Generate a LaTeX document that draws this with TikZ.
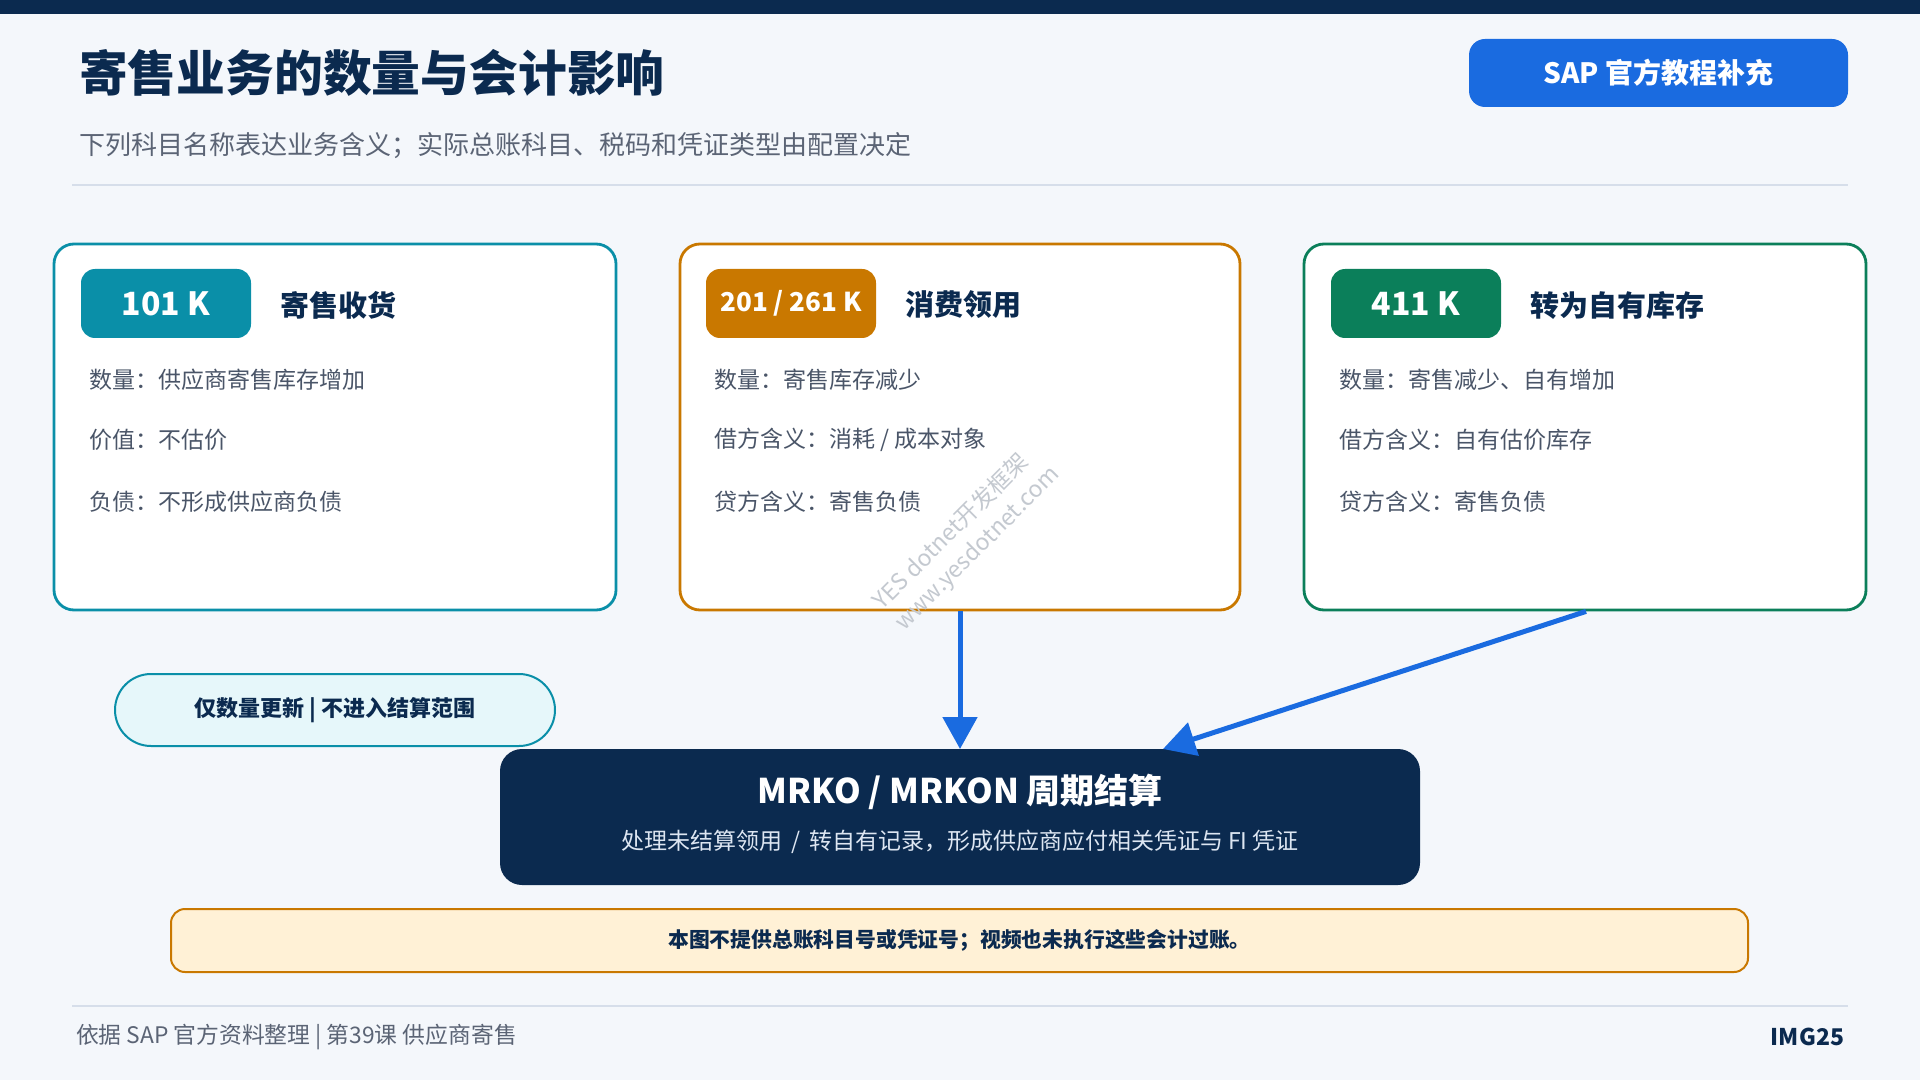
\documentclass[tikz,border=0pt]{standalone}
\usepackage{fontspec}
\setmainfont{Noto Sans CJK SC}
\usetikzlibrary{arrows.meta}
\definecolor{navy}{HTML}{0B2A4F}
\definecolor{flowblue}{HTML}{1A6BE0}
\definecolor{tealc}{HTML}{0A8FA8}
\definecolor{orangec}{HTML}{C97800}
\definecolor{greenc}{HTML}{0B7F5A}
\definecolor{bodygray}{HTML}{4A5568}
\definecolor{subgray}{HTML}{5B6475}
\definecolor{bgc}{HTML}{F4F7FB}
\definecolor{sepc}{HTML}{D6DEEA}
\definecolor{pillfill}{HTML}{E6F7FA}
\definecolor{notefill}{HTML}{FFF1D6}
\definecolor{subwhite}{HTML}{DDE6F2}
\definecolor{wmgray}{HTML}{C4C9D0}
\newcommand{\fsz}[1]{\fontsize{#1pt}{#1pt}\selectfont}
\begin{document}
\begin{tikzpicture}[x=0.5pt,y=-0.5pt,
  txt/.style={inner sep=0pt, outer sep=0pt},
  card/.style={fill=white, line width=1.4pt, rounded corners=10pt, inner sep=0pt,
    minimum width=281pt, minimum height=183pt},
  tag/.style={txt, rounded corners=7pt, minimum width=85pt, minimum height=34.5pt,
    text=white, font=\fsz{16}\bfseries},
  ctitle/.style={txt, anchor=west, text=navy, font=\fsz{14.5}\bfseries},
  body/.style={txt, anchor=west, text=bodygray, font=\fsz{11.5}},
  flow/.style={draw=flowblue, line width=2.5pt, -{Triangle[width=17pt,length=16pt]}},
  sepline/.style={draw=sepc, line width=1pt},
  wm/.style={txt, text=wmgray, font=\fsz{11.5}}
]
\fill[bgc] (0,0) rectangle (1920,1080);
\useasboundingbox (0,0) rectangle (1920,1080);
\fill[navy] (0,0) rectangle (1920,14);

% header
\node[txt, anchor=west, text=navy, font=\fsz{24.4}\bfseries] (title) at (79,73) {寄售业务的数量与会计影响};
\node[txt, fill=flowblue, rounded corners=8pt, minimum width=189.5pt, minimum height=34pt,
  text=white, font=\fsz{14}\bfseries] (sap) at (1658.5,73) {SAP 官方教程补充};
\node[txt, anchor=west, text=subgray, font=\fsz{13}] (sub) at (79,146) {下列科目名称表达业务含义；实际总账科目、税码和凭证类型由配置决定};
\draw[sepline] (72,185) -- (1848,185);

% cards
\node[card, draw=tealc] (c1) at (335,427) {};
\node[card, draw=orangec, minimum width=280pt] (c2) at (960,427) {};
\node[card, draw=greenc] (c3) at (1585,427) {};

\node[tag, fill=tealc] (b1) at (166,303.5) {101 K};
\node[tag, fill=orangec, font=\fsz{13}\bfseries] (b2) at (791,303.5) {201 / 261 K};
\node[tag, fill=greenc] (b3) at (1416,303.5) {411 K};

\node[ctitle] (t1) at (280,305) {寄售收货};
\node[ctitle] (t2) at (905,305) {消费领用};
\node[ctitle] (t3) at (1530,305) {转为自有库存};

\node[body] (l11) at (89,380) {数量：供应商寄售库存增加};
\node[body] (l12) at (89,440) {价值：不估价};
\node[body] (l13) at (89,502) {负债：不形成供应商负债};

\node[body] (l21) at (714,380) {数量：寄售库存减少};
\node[body] (l22) at (714,440) {借方含义：消耗 / 成本对象};
\node[body] (l23) at (714,502) {贷方含义：寄售负债};

\node[body] (l31) at (1339,380) {数量：寄售减少、自有增加};
\node[body] (l32) at (1339,440) {借方含义：自有估价库存};
\node[body] (l33) at (1339,502) {贷方含义：寄售负债};

% pill
\node[txt, draw=tealc, fill=pillfill, line width=1pt, rounded corners=18pt,
  minimum width=220pt, minimum height=36pt, text=navy, font=\fsz{11}\bfseries]
  (pill) at (335,710) {仅数量更新 | 不进入结算范围};

% settlement box
\node[txt, fill=navy, rounded corners=11pt, minimum width=460pt, minimum height=68pt] (mrko) at (960,817) {};
\node[txt, text=white, font=\fsz{17}\bfseries] (mt) at (960,792) {MRKO / MRKON 周期结算};
\node[txt, text=subwhite, font=\fsz{11.5}] (ms) at (960,842) {处理未结算领用 \,/\, 转自有记录，形成供应商应付相关凭证与 FI 凭证};

% arrows
\draw[flow] (c2.south) -- (mrko.north);
\draw[flow] ([xshift=0.5pt]c3.south) -- ([xshift=101.5pt]mrko.north);

% note
\node[txt, draw=orangec, fill=notefill, line width=1pt, rounded corners=7pt,
  minimum width=788.5pt, minimum height=31.5pt, text=navy, font=\fsz{10.4}\bfseries]
  (note) at (959.5,940.5) {本图不提供总账科目号或凭证号；视频也未执行这些会计过账。};

% footer
\draw[sepline] (72,1006) -- (1848,1006);
\node[txt, anchor=west, text=subgray, font=\fsz{11.4}] (foot) at (76,1037) {依据 SAP 官方资料整理 | 第39课 供应商寄售};
\node[txt, anchor=east, text=navy, font=\fsz{11.5}\bfseries] (img) at (1844,1037) {IMG25};

% watermark
\node[wm, rotate=45] (wm1) at (950,531) {YES dotnet开发框架};
\node[wm, rotate=45] (wm2) at (978,549) {www.yesdotnet.com};
\end{tikzpicture}
\end{document}
